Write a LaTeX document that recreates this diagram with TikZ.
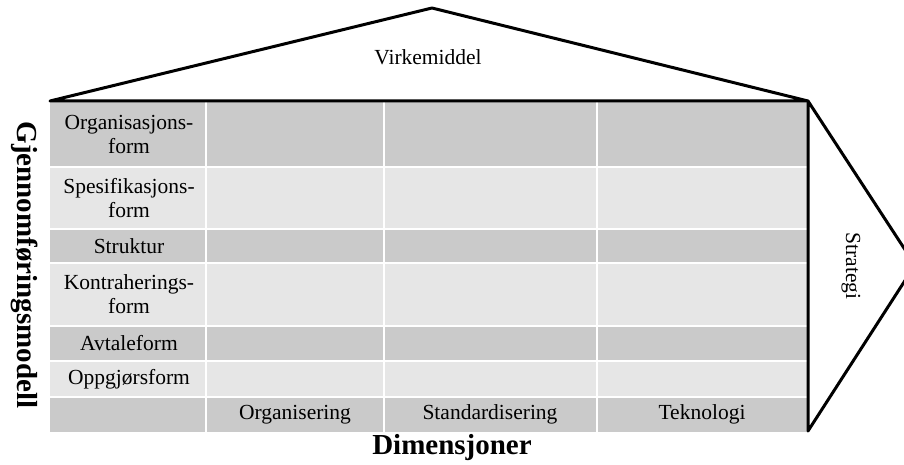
\documentclass[tikz,border=0pt]{standalone}
\usepackage{fontspec}
\setmainfont{Liberation Serif}
\definecolor{cellDark}{HTML}{CACACA}
\definecolor{cellLight}{HTML}{E6E6E6}
\begin{document}
\begin{tikzpicture}[x=1pt,y=-1pt,
  lbl/.style={font=\fontsize{21.5}{24}\selectfont, align=center, inner sep=0pt},
  big/.style={font=\fontsize{29}{32}\selectfont\bfseries, inner sep=0pt},
  outline/.style={draw=black, line width=3pt, line join=round, fill=white},
  gap/.style={draw=white, line width=2pt}]
\useasboundingbox[fill=white] (0,0) rectangle (904,465);
% rows
\fill[cellDark]  (50,101) rectangle (808,167);
\fill[cellLight] (50,167) rectangle (808,229);
\fill[cellDark]  (50,229) rectangle (808,263);
\fill[cellLight] (50,263) rectangle (808,326);
\fill[cellDark]  (50,326) rectangle (808,361);
\fill[cellLight] (50,361) rectangle (808,397);
\fill[cellDark]  (50,397) rectangle (808,432);
% white grid
\foreach \yy in {167,229,263,326,361,397}
  \draw[gap] (50,\yy) -- (808,\yy);
\foreach \xx in {206,384,597}
  \draw[gap] (\xx,101) -- (\xx,432);
% roof and arrow
\draw[outline] (50,101) -- (432,8) -- (808,101) -- cycle;
\draw[outline] (808,101) -- (915,265) -- (808,431) -- cycle;
% texts
\node[lbl] (vm) at (428,57) {Virkemiddel};
\node[lbl, rotate=-90] (st) at (851,266) {Strategi};
\node[lbl] (r1) at (129,134) {Organisasjons-\\form};
\node[lbl] (r2) at (129,198) {Spesifikasjons-\\form};
\node[lbl] (r3) at (129,246) {Struktur};
\node[lbl] (r4) at (129,294.5) {Kontraherings-\\form};
\node[lbl] (r5) at (129,343.5) {Avtaleform};
\node[lbl] (r6) at (129,379) {Oppgjørsform};
\node[lbl] (c1) at (295,414.5) {Organisering};
\node[lbl] (c2) at (490,414.5) {Standardisering};
\node[lbl] (c3) at (702,414.5) {Teknologi};
\node[big] (dim) at (452,448) {Dimensjoner};
\node[big, rotate=-90] (gm) at (25,265) {Gjennomføringsmodell};
\end{tikzpicture}
\end{document}
